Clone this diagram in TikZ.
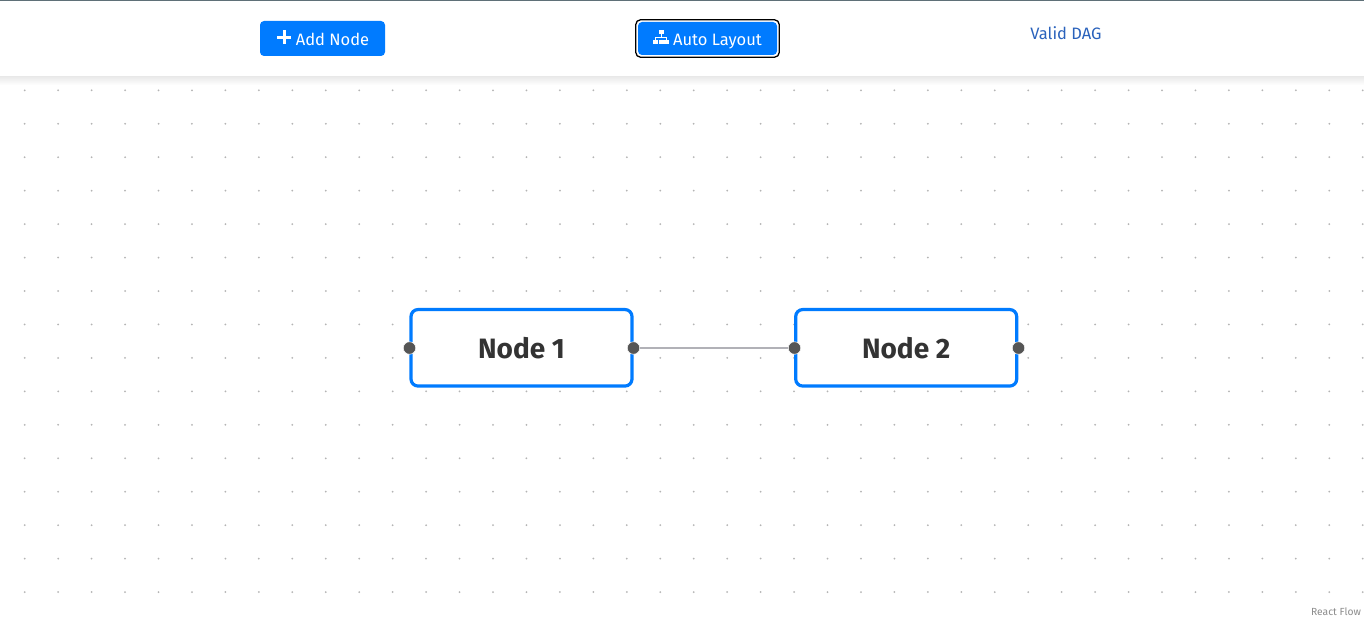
\documentclass[tikz,border=0pt]{standalone}
\usepackage{fontspec}
\usepackage{xcolor}
\setmainfont{Fira Sans}
\definecolor{btnblue}{HTML}{007BFF}
\definecolor{handlegray}{HTML}{555555}
\definecolor{edgegray}{HTML}{B1B1B7}
\definecolor{dotgray}{HTML}{B4B4B4}
\definecolor{titlegray}{HTML}{333333}
\definecolor{linkblue}{HTML}{2A62BC}
\definecolor{topline}{HTML}{5F7078}

\begin{document}
\begin{tikzpicture}[x=1pt,y=-1pt,
    btn/.style={fill=btnblue,rounded corners=4pt,inner sep=0pt,text=white,text height=14pt,text depth=0pt,font=\fontsize{16.5}{18}\selectfont},
    flownode/.style={draw=btnblue,line width=3.2pt,fill=white,rounded corners=7pt,minimum width=221pt,minimum height=76.5pt,
      inner sep=0pt,text=titlegray,font=\fontsize{28}{32}\selectfont\bfseries},
    handle/.style={circle,fill=handlegray,draw=white,line width=0.5pt,minimum size=12.5pt,inner sep=0pt}]
  \useasboundingbox (0,0) rectangle (1364,618);
  \fill[white] (0,0) rectangle (1364,618);

  % background dots
  \foreach \i in {0,...,40}
    \foreach \j in {0,...,15}
      \fill[dotgray] (24.7+33.45*\i,90.3+33.45*\j) circle (1);

  % header with its shadow
  \shade[top color=black!9,bottom color=white] (0,76) rectangle (1364,85);
  \fill[white] (0,0) rectangle (1364,76);
  \fill[topline] (0,0) rectangle (1364,1);

  % add node button
  \node[btn,minimum width=125pt,minimum height=35pt] (addbtn) at (322.5,38.5) {\hspace{20pt}Add Node};
  \draw[white,line width=3pt] (277,37.5) -- (291,37.5);
  \draw[white,line width=3pt] (284,30.5) -- (284,44.5);

  % auto layout button, black ring is the focus outline
  \node[btn,minimum width=139pt,minimum height=33pt,outer sep=0pt] (autobtn) at (707.5,38.5) {\hspace{20pt}Auto Layout};
  \draw[black,line width=1.3pt,rounded corners=5pt] (635.7,19.7) rectangle (779.3,57.3);
  % sitemap icon
  \fill[white] (658.5,30) rectangle (663.5,34.5);
  \draw[white,line width=1pt] (661,34) -- (661,37.5) (655.5,40) -- (655.5,37.5) -- (666.5,37.5) -- (666.5,40);
  \foreach \x in {653,658.5,664}
    \fill[white] (\x,40) rectangle (\x+5,44);

  % status text
  \node[text=linkblue,font=\fontsize{16.5}{18}\selectfont,inner sep=0pt] (status) at (1066,33) {Valid DAG};

  % the two flow nodes
  \node[flownode] (node1) at (521.5,347.8) {Node 1};
  \node[flownode] (node2) at (906.2,347.8) {Node 2};

  % handles
  \node[handle] (n1left) at (409.5,348) {};
  \node[handle] (n1right) at (633.5,348) {};
  \node[handle] (n2left) at (794.5,348) {};
  \node[handle] (n2right) at (1018.5,348) {};

  % edge between the nodes
  \draw[edgegray,line width=1.5pt] (n1right) -- (n2left);

  % attribution
  \node[text=black!45,font=\fontsize{10.3}{12}\selectfont,inner sep=0pt] (credit) at (1336,612) {React Flow};
\end{tikzpicture}
\end{document}
